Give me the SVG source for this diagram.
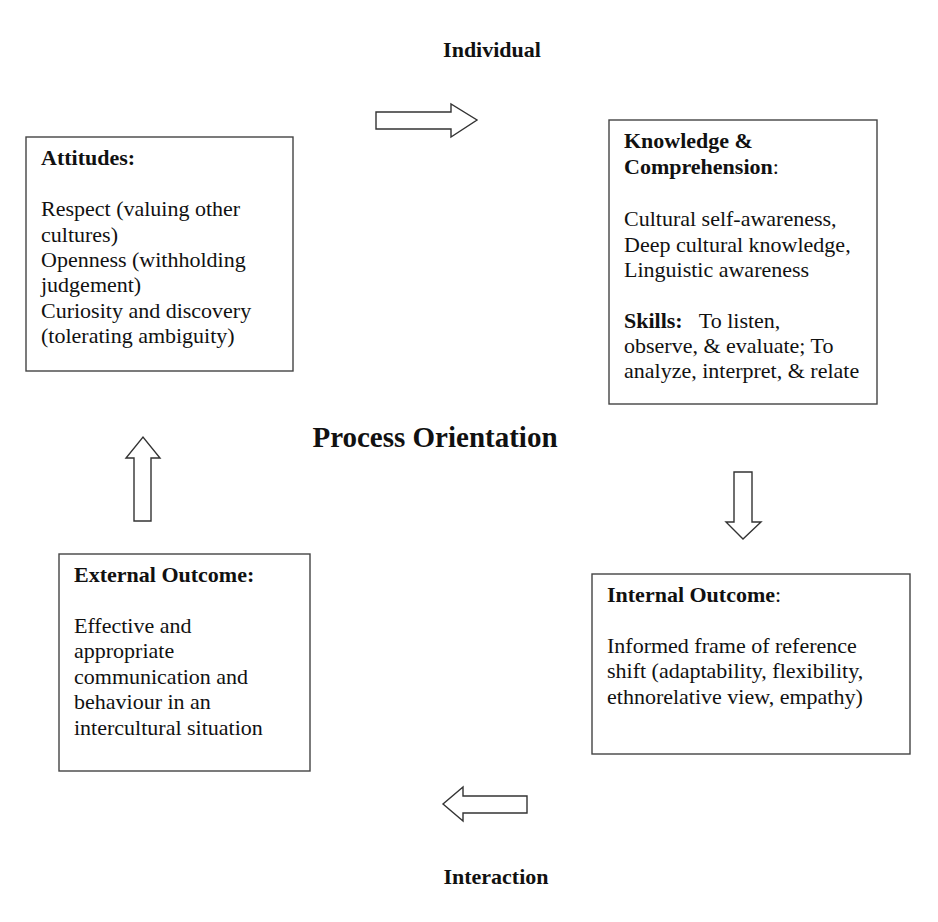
<svg xmlns="http://www.w3.org/2000/svg" width="938" height="922" viewBox="0 0 938 922">
  <style>
    text { font-family: "Liberation Serif", "Times New Roman", serif; fill: #111; }
    .body { font-size: 22px; }
    .head { font-size: 22px; font-weight: bold; }
    .label { font-size: 22px; font-weight: bold; }
    .title { font-size: 29px; font-weight: bold; }
    .box { fill: #fff; stroke: #444; stroke-width: 1.4; }
    .arrow { fill: #fff; stroke: #333; stroke-width: 1.4; stroke-linejoin: miter; }
  </style>
  <rect width="938" height="922" fill="#fff"/>

  <text class="label" x="492" y="57" text-anchor="middle">Individual</text>
  <text class="title" x="435" y="447" text-anchor="middle">Process Orientation</text>
  <text class="label" x="496" y="884" text-anchor="middle">Interaction</text>

  <g id="attitudes">
    <rect class="box" x="26" y="137" width="267" height="234"/>
    <text class="head" x="41" y="165">Attitudes:</text>
    <text class="body" x="41" y="216">Respect (valuing other</text>
    <text class="body" x="41" y="242">cultures)</text>
    <text class="body" x="41" y="267">Openness (withholding</text>
    <text class="body" x="41" y="292">judgement)</text>
    <text class="body" x="41" y="318">Curiosity and discovery</text>
    <text class="body" x="41" y="343">(tolerating ambiguity)</text>
  </g>

  <g id="knowledge">
    <rect class="box" x="609" y="120" width="268" height="284"/>
    <text class="head" x="624" y="148">Knowledge &amp;</text>
    <text class="body" x="624" y="174"><tspan font-weight="bold">Comprehension</tspan>:</text>
    <text class="body" x="624" y="226">Cultural self-awareness,</text>
    <text class="body" x="624" y="252">Deep cultural knowledge,</text>
    <text class="body" x="624" y="277">Linguistic awareness</text>
    <text class="body" x="624" y="328" xml:space="preserve"><tspan font-weight="bold">Skills:</tspan>   To listen,</text>
    <text class="body" x="624" y="353">observe, &amp; evaluate; To</text>
    <text class="body" x="624" y="378">analyze, interpret, &amp; relate</text>
  </g>

  <g id="external-outcome">
    <rect class="box" x="59" y="554" width="251" height="217"/>
    <text class="head" x="74" y="582">External Outcome:</text>
    <text class="body" x="74" y="633">Effective and</text>
    <text class="body" x="74" y="658">appropriate</text>
    <text class="body" x="74" y="684">communication and</text>
    <text class="body" x="74" y="709">behaviour in an</text>
    <text class="body" x="74" y="735">intercultural situation</text>
  </g>

  <g id="internal-outcome">
    <rect class="box" x="592" y="574" width="318" height="180"/>
    <text class="body" x="607" y="602"><tspan font-weight="bold">Internal Outcome</tspan>:</text>
    <text class="body" x="607" y="653">Informed frame of reference</text>
    <text class="body" x="607" y="678">shift (adaptability, flexibility,</text>
    <text class="body" x="607" y="704">ethnorelative view, empathy)</text>
  </g>

  <g id="connectors">
    <!-- block arrows cycling clockwise -->
    <polygon class="arrow" points="376,112 451,112 451,104 477,120 451,137 451,129 376,129"/>
    <polygon class="arrow" points="734,472 752,472 752,522 761,522 743,539 726,522 734,522"/>
    <polygon class="arrow" points="527,796 463,796 463,787 443,804 463,821 463,813 527,813"/>
    <polygon class="arrow" points="134,521 134,458 126,458 143,437 160,458 151,458 151,521"/>
  </g>
</svg>
